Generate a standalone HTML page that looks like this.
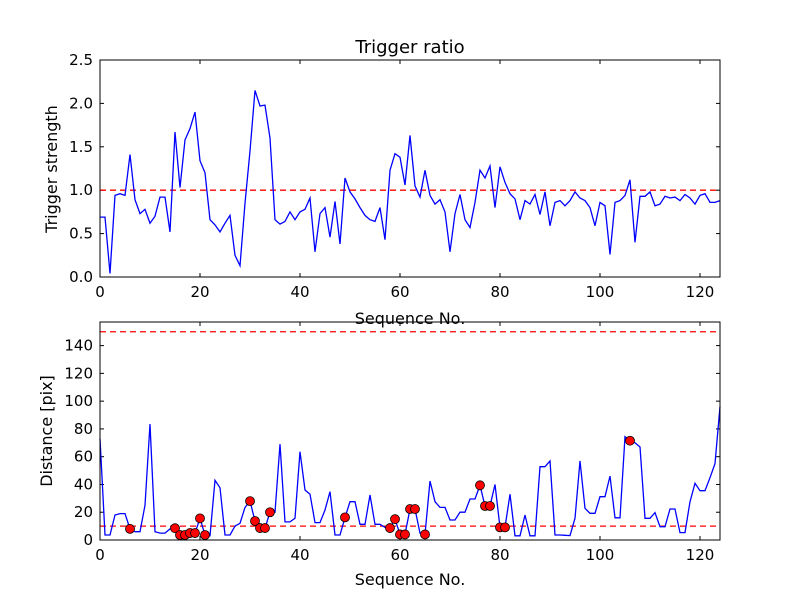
<!DOCTYPE html>
<html><head><meta charset="utf-8"><style>
body{margin:0;background:#fff}
svg text{font-family:"DejaVu Sans","Liberation Sans",sans-serif;fill:#000}
</style></head><body>
<svg id="c" width="800" height="600" xmlns="http://www.w3.org/2000/svg"></svg>
<script>
const strength=[0.69,0.69,0.04,0.94,0.96,0.94,1.41,0.89,0.73,0.78,0.62,0.70,0.92,0.92,0.52,1.67,1.03,1.58,1.71,1.90,1.34,1.20,0.66,0.60,0.52,0.62,0.71,0.25,0.13,0.85,1.45,2.15,1.97,1.98,1.60,0.66,0.61,0.64,0.75,0.66,0.75,0.78,0.91,0.29,0.73,0.80,0.46,0.87,0.38,1.14,0.98,0.90,0.80,0.71,0.66,0.64,0.80,0.43,1.23,1.42,1.38,1.06,1.63,1.05,0.92,1.23,0.94,0.84,0.89,0.75,0.29,0.73,0.95,0.66,0.57,0.86,1.23,1.14,1.28,0.80,1.27,1.09,0.96,0.90,0.66,0.88,0.84,0.95,0.72,0.98,0.59,0.86,0.88,0.82,0.88,0.98,0.91,0.88,0.80,0.59,0.86,0.82,0.26,0.86,0.88,0.94,1.12,0.40,0.93,0.93,0.98,0.82,0.84,0.93,0.91,0.92,0.88,0.95,0.91,0.84,0.94,0.96,0.86,0.86,0.88];
const distance=[73,3.6,3.6,18,19,19,8,6,6,25,83.5,6,5,5,8,8.5,3.6,3.6,5,5,15.6,3.6,3,43,37.6,3.6,3.6,10,12,23.5,28,13.7,8.6,8.6,20,20,69,13,13,15.6,63.6,36,33,12.5,12.5,21.6,34.8,3.6,3.6,16.3,27.6,27.6,11.3,11.3,32.4,11.3,11.3,9.1,8.6,15,4,4,22.3,22.3,5,4,42.5,27.6,23.5,23.5,14.4,14.4,20,20,29.5,29.5,39.4,24.5,24.5,40,9.1,9.1,33,3,3,18,3,3,52.8,52.8,56.9,3.6,3.6,3.4,3.2,15.6,57,22.8,19.2,19.2,31.2,31.2,46,16,16,74.4,71.5,70,67,15.6,15.6,19.7,9.6,9.6,22.3,22.3,5.3,5.3,27.6,40.8,35.5,35.5,44.9,55,96];
const markerIdx=[6,15,16,17,18,19,20,21,30,31,32,33,34,49,58,59,60,61,62,63,65,76,77,78,80,81,106];
const xTicks=[0,20,40,60,80,100,120];
const topYTicks=[0,0.5,1.0,1.5,2.0,2.5];
const botYTicks=[0,20,40,60,80,100,120,140];
const topThresh=1.0, botThresh=[10,150];

const svg=document.getElementById('c');const NS='http://www.w3.org/2000/svg';
function mk(t,a,p){const e=document.createElementNS(NS,t);for(const k in a)e.setAttribute(k,a[k]);(p||svg).appendChild(e);return e;}
const L=100,R=720;
const sx=v=>L+v/124*(R-L);
function axes(top,bot,ymax,yT,fmt,name){
  const sy=v=>bot-v/ymax*(bot-top);
  const g=mk('g',{});
  
  
  xTicks.forEach(t=>{
    const x=sx(t);
    mk('line',{x1:x,x2:x,y1:bot,y2:bot-4,stroke:'#000'},g);
    mk('line',{x1:x,x2:x,y1:top,y2:top+4,stroke:'#000'},g);
    const tx=mk('text',{x:x,y:bot+20,'text-anchor':'middle','font-size':15},g);tx.textContent=t;
    
    
  });
  yT.forEach(t=>{
    const y=sy(t);
    mk('line',{x1:L,x2:L+4,y1:y,y2:y,stroke:'#000'},g);
    mk('line',{x1:R,x2:R-4,y1:y,y2:y,stroke:'#000'},g);
    const tx=mk('text',{x:L-7,y:y+5,'text-anchor':'end','font-size':15},g);tx.textContent=fmt(t);
    
    
  });
  return {g,sy};
}
function series(vals,sy,g){
  const d=vals.map((v,i)=>(i?'L':'M')+sx(i).toFixed(1)+','+sy(v).toFixed(1)).join('');
  const p=mk('path',{d:d,fill:'none',stroke:'#0000ff','stroke-width':1.3},g);
  
  
}
function hline(v,sy,g){
  const l=mk('line',{x1:L,x2:R,y1:sy(v),y2:sy(v),stroke:'#ff0000','stroke-width':1.3,'stroke-dasharray':'6,4'},g);
  
  
}
// top
const A=axes(60,277,2.5,topYTicks,t=>t.toFixed(1),'top-plot');
hline(topThresh,A.sy,A.g);
series(strength,A.sy,A.g);
mk('rect',{x:L,y:60,width:R-L,height:217,fill:'none',stroke:'#000'},A.g);
// bottom
const B=axes(322,540,157,botYTicks,t=>t,'bottom-plot');
botThresh.forEach(v=>hline(v,B.sy,B.g));
series(distance,B.sy,B.g);
markerIdx.forEach(i=>{
  const c=mk('circle',{cx:sx(i),cy:B.sy(distance[i]),r:4.5,fill:'#ff0000',stroke:'#000','stroke-width':0.8},B.g);
  
  
});
mk('rect',{x:L,y:322,width:R-L,height:218,fill:'none',stroke:'#000'},B.g);
</script>
<svg width="800" height="600" style="position:absolute;left:0;top:0" xmlns="http://www.w3.org/2000/svg">
<text x="410" y="53" text-anchor="middle" font-size="18">Trigger ratio</text>
<text x="410" y="324" text-anchor="middle" font-size="16">Sequence No.</text>
<text x="410" y="585" text-anchor="middle" font-size="16">Sequence No.</text>
<text transform="translate(57,169) rotate(-90)" text-anchor="middle" font-size="16">Trigger strength</text>
<text transform="translate(52,431) rotate(-90)" text-anchor="middle" font-size="16">Distance [pix]</text>
</svg>
</body></html>
